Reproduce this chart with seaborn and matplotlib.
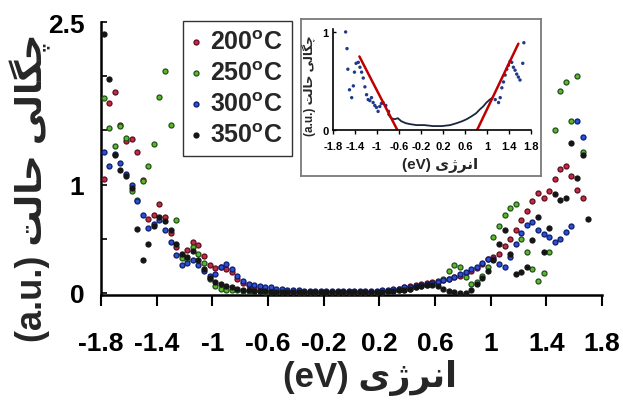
import matplotlib
matplotlib.use("Agg")
import matplotlib.pyplot as plt
import seaborn as sns

# energy grid (eV), shared by all four curves
ENERGY = [
    -1.78, -1.74, -1.70, -1.66, -1.62, -1.58, -1.54, -1.50, -1.46, -1.42,
    -1.38, -1.34, -1.30, -1.26, -1.22, -1.18, -1.14, -1.10, -1.06, -1.02,
    -0.98, -0.94, -0.90, -0.86, -0.82, -0.78, -0.74, -0.70, -0.66, -0.62,
    -0.58, -0.54, -0.50, -0.46, -0.42, -0.38, -0.34, -0.30, -0.26, -0.22,
    -0.18, -0.14, -0.10, -0.06, -0.02, 0.02, 0.06, 0.10, 0.14, 0.18,
    0.22, 0.26, 0.30, 0.34, 0.38, 0.42, 0.46, 0.50, 0.54, 0.58,
    0.62, 0.66, 0.70, 0.74, 0.78, 0.82, 0.86, 0.90, 0.94, 0.98,
    1.02, 1.06, 1.10, 1.14, 1.18, 1.22, 1.26, 1.30, 1.34, 1.38,
    1.42, 1.46, 1.50, 1.54, 1.58, 1.62, 1.66, 1.70,
]
NAN = float("nan")

DOS_200 = [
    1.05, 1.75, 1.85, 1.55, 1.40, 1.42, 1.30, 1.04, 0.68, 0.72,
    0.82, 0.70, 0.55, 0.42, 0.35, 0.40, 0.47, 0.44, 0.34, 0.26,
    0.23, 0.24, 0.22, 0.19, 0.13, 0.09, 0.07, 0.05, 0.04, 0.03,
    0.03, 0.02, 0.02, 0.02, 0.01, 0.01, 0.01, 0.01, 0.01, 0.01,
    0.01, 0.01, 0.01, 0.01, 0.01, 0.01, 0.01, 0.01, 0.01, 0.01,
    0.02, 0.02, 0.03, 0.04, 0.05, 0.06, 0.07, 0.08, 0.09, 0.10,
    0.11, 0.12, 0.13, 0.15, 0.16, 0.18, 0.20, 0.23, 0.27, 0.31,
    0.33, 0.36, 0.43, 0.50, 0.58, 0.67, 0.76, 0.85, 0.92, 0.88,
    0.94, 1.05, 1.14, 1.17, 1.08, 0.95, 0.88, NAN,
]
DOS_250 = [
    1.80, 1.52, 1.36, 1.54, 1.43, 0.94, 0.86, 1.03, 1.17, 1.37,
    1.81, 2.05, 1.55, 0.67, 0.32, 0.30, 0.42, 0.36, 0.28, 0.13,
    0.06, 0.04, 0.03, 0.03, 0.03, 0.02, 0.02, 0.02, 0.02, 0.01,
    0.01, 0.01, 0.01, 0.01, 0.01, 0.01, 0.01, 0.01, 0.01, 0.01,
    0.01, 0.01, 0.01, 0.01, 0.01, 0.01, 0.01, 0.01, 0.01, 0.01,
    0.01, 0.02, 0.02, 0.03, 0.03, 0.04, 0.05, 0.06, 0.07, 0.08,
    0.10, 0.13, 0.20, 0.26, 0.24, 0.15, 0.08, 0.10, 0.16, 0.24,
    0.52, 0.62, 0.72, 0.78, 0.82, 0.50, 0.38, 0.22, 0.11, 0.18,
    0.38, 1.50, 1.86, 1.95, 1.59, 2.00, 1.30, NAN,
]
DOS_300 = [
    1.30, 1.17, 1.28, 1.20, 1.10, 1.00, 0.85, 0.72, 0.60, 0.64,
    0.67, 0.58, 0.47, 0.35, 0.26, 0.28, 0.30, 0.26, 0.20, 0.16,
    0.17, 0.24, 0.27, 0.22, 0.16, 0.11, 0.08, 0.07, 0.06, 0.05,
    0.05, 0.04, 0.04, 0.03, 0.03, 0.03, 0.02, 0.02, 0.02, 0.02,
    0.02, 0.02, 0.02, 0.02, 0.02, 0.02, 0.02, 0.02, 0.02, 0.02,
    0.03, 0.03, 0.04, 0.04, 0.05, 0.05, 0.06, 0.07, 0.08, 0.09,
    0.10, 0.12, 0.13, 0.15, 0.17, 0.19, 0.22, 0.24, 0.28, 0.31,
    0.31, 0.27, 0.24, 0.33, 0.45, 0.55, 0.63, 0.65, 0.58, 0.54,
    0.52, 0.47, 0.50, 0.56, 0.62, 1.59, 1.44, NAN,
]
DOS_350 = [
    2.39, 1.97, 1.27, 1.13, 1.08, 0.97, 0.59, 0.30, 0.45, 0.62,
    0.70, 0.66, 0.58, 0.45, 0.36, 0.33, 0.39, 0.30, 0.22, 0.14,
    0.10, 0.08, 0.06, 0.05, 0.04, 0.03, 0.03, 0.02, 0.02, 0.02,
    0.01, 0.01, 0.01, 0.01, 0.01, 0.01, 0.01, 0.01, 0.01, 0.01,
    0.01, 0.01, 0.01, 0.01, 0.01, 0.01, 0.01, 0.01, 0.01, 0.01,
    0.01, 0.02, 0.02, 0.03, 0.03, 0.04, 0.05, 0.06, 0.07, 0.07,
    0.06, 0.04, 0.02, 0.01, 0.00, 0.00, 0.03, 0.08, 0.14, 0.20,
    0.30, 0.45, 0.58, 0.36, 0.17, 0.19, 0.24, 0.49, 0.70, 0.38,
    0.60, 0.91, 0.86, 0.88, 1.38, 1.06, 1.27, 0.68,
]

LABELS = [r"200$^{\mathbf{o}}$C", r"250$^{\mathbf{o}}$C",
          r"300$^{\mathbf{o}}$C", r"350$^{\mathbf{o}}$C"]

X_TICKS = [-1.8, -1.4, -1.0, -0.6, -0.2, 0.2, 0.6, 1.0, 1.4, 1.8]
X_TICK_LABELS = ["-1.8", "-1.4", "-1", "-0.6", "-0.2", "0.2", "0.6", "1", "1.4", "1.8"]
Y_TICKS = [0, 0.5, 1, 1.5, 2, 2.5]
Y_TICK_LABELS = ["0", "", "1", "", "", "2.5"]

# Persian labels, written with Arabic presentation forms in display order
# ("چگالی حالت" = density of states, "انرژی" = energy)
Y_LABEL = "(a.u.) \uFE96\uFEDF\uFE8E\uFEA3 \uFBFD\uFEDF\uFE8E\uFB95\uFB7C"
X_LABEL = "(eV) \uFBFC\uFB8A\uFEAE\uFEE7\uFE8D"

# inset: one sample, dots on the wings, line in the gap, two linear fits
INSET_DOT_X = [-1.57, -1.545, -1.53, -1.50, -1.46, -1.43, -1.41, -1.38, -1.34, -1.31,
               -1.28, -1.25, -1.22, -1.19, -1.16, -1.13, -1.10, -1.07, -1.04, -1.01,
               -0.98, -0.95, -0.92, -0.89, -0.84, -0.79,
               1.15, 1.21, 1.24, 1.27, 1.30, 1.33, 1.36, 1.39, 1.42, 1.45,
               1.48, 1.51, 1.54, 1.57, 1.60, 1.65, 1.67]
INSET_DOT_Y = [1.00, 0.83, 0.62, 0.41, 0.33, 0.45, 0.59, 0.68, 0.69, 0.64,
               0.59, 0.53, 0.44, 0.36, 0.31, 0.30, 0.33, 0.28, 0.25, 0.23,
               0.19, 0.24, 0.27, 0.28, 0.25, 0.19,
               0.31, 0.28, 0.33, 0.43, 0.49, 0.56, 0.62, 0.66, 0.70, 0.69,
               0.64, 0.61, 0.57, 0.54, 0.51, 0.68, 0.89]
INSET_LINE_X = [-0.80, -0.74, -0.68, -0.62, -0.56, -0.48, -0.40, -0.28, -0.14, 0.02,
                0.18, 0.33, 0.45, 0.55, 0.63, 0.72, 0.80, 0.87, 0.93, 0.99, 1.05, 1.10]
INSET_LINE_Y = [0.16, 0.12, 0.11, 0.12, 0.09, 0.07, 0.06, 0.05, 0.05, 0.04,
                0.04, 0.05, 0.07, 0.09, 0.11, 0.14, 0.17, 0.21, 0.24, 0.28, 0.31, 0.33]
FIT_LEFT_X = [-1.32, -0.63]
FIT_LEFT_Y = [0.75, 0.0]
FIT_RIGHT_X = [0.82, 1.57]
FIT_RIGHT_Y = [0.0, 0.88]

sns.set_theme(style="white")
plt.rcParams["font.family"] = ["Liberation Sans", "DejaVu Sans"]
plt.rcParams["font.weight"] = "bold"
plt.rcParams["mathtext.fontset"] = "custom"
plt.rcParams["mathtext.bf"] = "Liberation Sans:bold"
plt.rcParams["mathtext.rm"] = "Liberation Sans:bold"

W, H = 623, 406
fig = plt.figure(figsize=(W / 100, H / 100), dpi=100)
ax = fig.add_axes([101 / W, 1 - 296 / H, 501 / W, 273 / H])

styles = [
    ("#c42a44", "#5e0d1c"),   # 200
    ("#5cb82a", "#20501a"),   # 250
    ("#2d4fd0", "#0c1c6e"),   # 300
    ("#151515", "#151515"),   # 350
]
series = [DOS_200, DOS_250, DOS_300, DOS_350]
order = [3, 1, 0, 2]  # draw blue last so it sits on top, as in the original
for k in order:
    face, edge = styles[k]
    sns.scatterplot(x=ENERGY, y=series[k], ax=ax, s=13, color=face,
                    edgecolor=edge, linewidth=0.9, zorder=3 + k, label=LABELS[k])

ax.set_xlim(-1.8, 1.8)
ax.set_ylim(-0.02, 2.5)
ax.set_xticks(X_TICKS)
ax.set_xticklabels(X_TICK_LABELS)
ax.set_yticks(Y_TICKS)
ax.set_yticklabels(Y_TICK_LABELS)
ax.tick_params(axis="x", direction="out", length=8, width=1.5, labelsize=19,
               pad=18, colors="black", bottom=True)
ax.tick_params(axis="y", direction="in", length=4, width=1.2, labelsize=19,
               pad=12, colors="black", left=True)
for lab in ax.get_xticklabels() + ax.get_yticklabels():
    lab.set_fontweight("bold")
sns.despine(ax=ax)
for side in ("left", "bottom"):
    ax.spines[side].set_color("black")
    ax.spines[side].set_linewidth(1.8)

ax.set_xlabel(X_LABEL, fontsize=25, fontweight="bold", va="top")
ax.xaxis.set_label_coords(0.537, -0.235)
ax.set_ylabel(Y_LABEL, fontsize=26, fontweight="bold")
ax.yaxis.set_label_coords(-0.1, 0.395)

h, l = ax.get_legend_handles_labels()
pairs = sorted(zip(h, l), key=lambda p: LABELS.index(p[1]))
leg = ax.legend([p[0] for p in pairs], [p[1] for p in pairs],
                loc="upper left", bbox_to_anchor=(183 / W, 1 - 22 / H),
                bbox_transform=fig.transFigure, borderaxespad=0,
                prop={"weight": "bold", "size": 18},
                frameon=True, fancybox=False, framealpha=1,
                handlelength=0.3, handletextpad=0.45, borderpad=0.35,
                labelspacing=0.28, markerscale=1.0)
leg.get_frame().set_edgecolor("#333333")
leg.get_frame().set_linewidth(1.0)

# inset frame
fa = fig.add_axes([301 / W, 1 - 177 / H, 240 / W, 157 / H], zorder=5)
fa.set_xticks([])
fa.set_yticks([])
fa.set_facecolor("white")
for s in fa.spines.values():
    s.set_color("#7a7a7a")
    s.set_linewidth(1.3)

ia = fig.add_axes([333 / W, 1 - 131 / H, 198 / W, 101 / H], zorder=6)
ia.patch.set_alpha(0)
sns.scatterplot(x=INSET_DOT_X, y=INSET_DOT_Y, ax=ia, s=6, color="#1f3a8a",
                edgecolor="none", legend=False)
sns.lineplot(x=INSET_LINE_X, y=INSET_LINE_Y, ax=ia, color="#1a2540", lw=1.3)
sns.lineplot(x=FIT_LEFT_X, y=FIT_LEFT_Y, ax=ia, color="#c00000", lw=1.8)
sns.lineplot(x=FIT_RIGHT_X, y=FIT_RIGHT_Y, ax=ia, color="#c00000", lw=1.8)
ia.set_xlim(-1.8, 1.8)
ia.set_ylim(0, 1.03)
ia.set_xticks(X_TICKS)
ia.set_xticklabels(X_TICK_LABELS)
ia.set_yticks([0, 1])
ia.set_yticklabels(["0", "1"])
ia.tick_params(axis="x", direction="out", length=3, width=1, labelsize=8,
               pad=5, colors="black", bottom=True)
ia.tick_params(axis="y", direction="in", length=2, width=1, labelsize=8,
               pad=3, colors="black", left=True)
for lab in ia.get_xticklabels() + ia.get_yticklabels():
    lab.set_fontweight("bold")
sns.despine(ax=ia)
for side in ("left", "bottom"):
    ia.spines[side].set_color("black")
    ia.spines[side].set_linewidth(1.2)
ia.set_xlabel(X_LABEL, fontsize=11, fontweight="bold", va="top")
ia.xaxis.set_label_coords(0.54, -0.27)
ia.set_ylabel(Y_LABEL, fontsize=8.5, fontweight="bold")
ia.yaxis.set_label_coords(-0.086, 0.45)

fig.savefig("out.png", dpi=100)
